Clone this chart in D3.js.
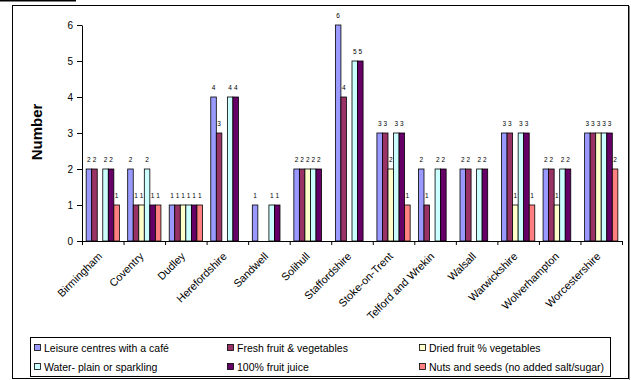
<!DOCTYPE html>
<html>
<head>
<meta charset="utf-8">
<script src="https://cdn.jsdelivr.net/npm/d3@7"></script>
<style>
  html, body { margin: 0; padding: 0; background: #fff; }
  svg { display: block; font-family: Arial, "Liberation Sans", Helvetica, sans-serif; }
</style>
</head>
<body>
<svg id="chart" width="631" height="380"></svg>
<script>
// Local authorities
const categories = ["Birmingham", "Coventry", "Dudley", "Herefordshire", "Sandwell", "Solihull",
  "Staffordshire", "Stoke-on-Trent", "Telford and Wrekin", "Walsall", "Warwickshire",
  "Wolverhampton", "Worcestershire"];

// Series names (legend order)
const seriesNames = ["Leisure centres with a café", "Fresh fruit & vegetables", "Dried fruit % vegetables",
  "Water- plain or sparkling", "100% fruit juice", "Nuts and seeds (no added salt/sugar)"];

// Counts per authority (null = none reported)
const leisureCentres = [2, 2, 1, 4, 1, 2, 6, 3, 2, 2, 3, 2, 3];
const freshFruitVeg  = [2, 1, 1, 3, null, 2, 4, 3, 1, 2, 3, 2, 3];
const driedFruitVeg  = [null, 1, 1, null, null, 2, null, 2, null, null, 1, 1, 3];
const water          = [2, 2, 1, 4, 1, 2, 5, 3, 2, 2, 3, 2, 3];
const fruitJuice     = [2, 1, 1, 4, 1, 2, 5, 3, 2, 2, 3, 2, 3];
const nutsSeeds      = [1, 1, 1, null, null, null, null, 1, null, null, 1, null, 2];

const yTicks = [0, 1, 2, 3, 4, 5, 6];
const colors = ["#9999FF", "#993366", "#FFFFCC", "#CCFFFF", "#660066", "#FF8080"];

const seriesValues = [leisureCentres, freshFruitVeg, driedFruitVeg, water, fruitJuice, nutsSeeds];

const svg = d3.select("#chart");

// Outer frame
svg.append("rect").attr("x", 0).attr("y", 0).attr("width", 76).attr("height", 1.5).attr("fill", "#000");
svg.append("rect").attr("x", 12.5).attr("y", 5.5).attr("width", 616).attr("height", 373)
  .attr("fill", "#fff").attr("stroke", "#000").attr("stroke-width", 1);
svg.append("line").attr("x1", 629.5).attr("x2", 629.5).attr("y1", 6).attr("y2", 380)
  .attr("stroke", "#888").attr("stroke-width", 1);

// Plot geometry
const plotLeft = 82, plotRight = 622, plotTop = 25, plotBottom = 241;

const x = d3.scaleBand().domain(categories).range([plotLeft, plotRight]).padding(0);
const bw = x.bandwidth();
const barW = bw / 7.5; // gap width 150%
const xs = d3.scaleBand().domain(d3.range(seriesNames.length))
  .range([barW * 0.75, bw - barW * 0.75]).padding(0);
const y = d3.scaleLinear().domain([0, 6]).range([plotBottom, plotTop]);

// Bars
const groups = svg.append("g").selectAll("g")
  .data(seriesValues).join("g")
  .attr("fill", (d, i) => colors[i]);

groups.selectAll("rect")
  .data((vals, si) => vals.map((v, ci) => ({ v, ci, si })).filter(d => d.v != null))
  .join("rect")
  .attr("x", d => x(categories[d.ci]) + xs(d.si))
  .attr("y", d => y(d.v))
  .attr("width", xs.bandwidth())
  .attr("height", d => y(0) - y(d.v))
  .attr("stroke", "#000")
  .attr("stroke-width", 0.8);

// Value labels
groups.selectAll("text")
  .data((vals, si) => vals.map((v, ci) => ({ v, ci, si })).filter(d => d.v != null))
  .join("text")
  .attr("x", d => x(categories[d.ci]) + xs(d.si) + xs.bandwidth() / 2)
  .attr("y", d => y(d.v) - 7)
  .attr("text-anchor", "middle")
  .attr("font-size", 6.5)
  .attr("fill", "#000")
  .text(d => d.v);

// Y axis
const yAxis = svg.append("g")
  .attr("transform", `translate(${plotLeft},0)`)
  .call(d3.axisLeft(y).tickValues(yTicks).tickFormat(d3.format("d")).tickSize(5).tickSizeOuter(0).tickPadding(4));
yAxis.selectAll("text").attr("font-size", 10).attr("fill", "#000").attr("font-family", "Arial, 'Liberation Sans', sans-serif");
yAxis.selectAll("line, path").attr("stroke", "#000");

// X axis: line with ticks on category boundaries
const xb = d3.scaleLinear().domain([0, categories.length]).range([plotLeft, plotRight]);
const xAxis = svg.append("g")
  .attr("transform", `translate(0,${plotBottom})`)
  .call(d3.axisBottom(xb).tickValues(d3.range(categories.length + 1)).tickFormat("").tickSize(4).tickSizeOuter(0));
xAxis.selectAll("line, path").attr("stroke", "#000");

// Rotated category labels
svg.append("g").selectAll("text")
  .data(categories).join("text")
  .attr("transform", d => `translate(${x(d) + bw / 2},${plotBottom + 16}) rotate(-45)`)
  .attr("text-anchor", "end")
  .attr("font-size", 10.8)
  .attr("fill", "#000")
  .text(d => d);

// Y axis title
svg.append("text")
  .attr("transform", `translate(42,${(plotTop + plotBottom) / 2 - 1}) rotate(-90)`)
  .attr("text-anchor", "middle")
  .attr("font-size", 15)
  .attr("font-weight", "bold")
  .attr("fill", "#000")
  .text("Number");

// Legend
const legend = svg.append("g");
legend.append("rect").attr("x", 30.5).attr("y", 337.5).attr("width", 580).attr("height", 39)
  .attr("fill", "#fff").attr("stroke", "#000").attr("stroke-width", 1);
const legendCols = [34, 227, 419];
const legendRows = [348, 367];
const items = legend.selectAll("g.item")
  .data(seriesNames).join("g")
  .attr("class", "item")
  .attr("transform", (d, i) => `translate(${legendCols[i % 3]},${legendRows[Math.floor(i / 3)]})`);
items.append("rect").attr("x", 0.5).attr("y", -3.5).attr("width", 6).attr("height", 6)
  .attr("fill", (d, i) => colors[i]).attr("stroke", "#000").attr("stroke-width", 0.8);
items.append("text").attr("x", 10).attr("y", 0).attr("dy", "0.35em")
  .attr("font-size", 10.5).attr("fill", "#000").text(d => d);
</script>
</body>
</html>
